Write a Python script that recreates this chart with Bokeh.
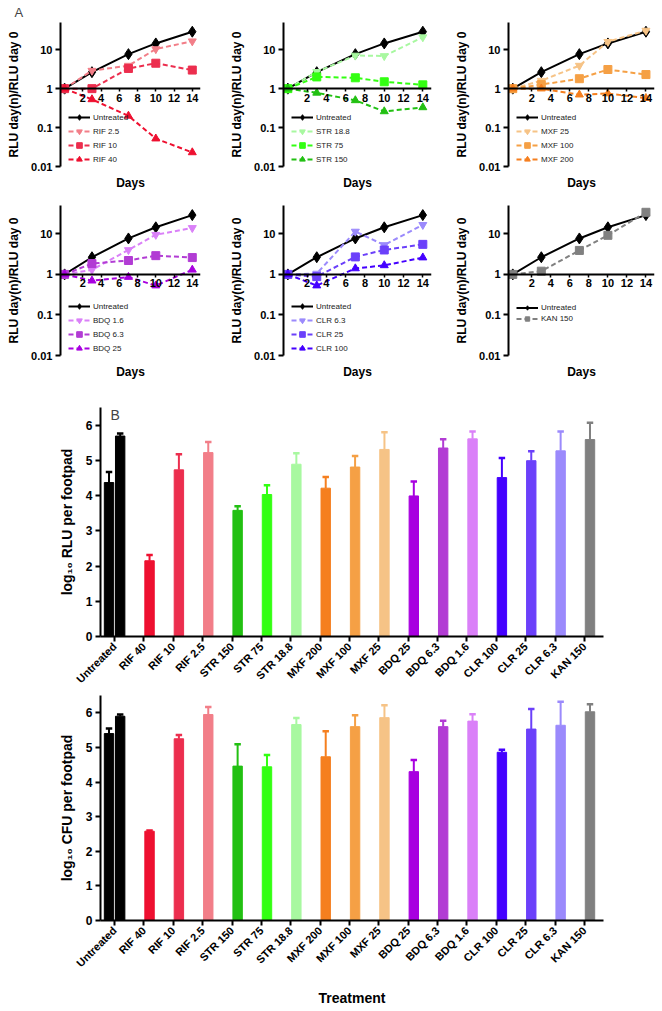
import math
from bokeh.plotting import figure
from bokeh.models import (LinearAxis, FixedTicker, CustomJSTickFormatter, Legend,
                          LegendItem, Label, Range1d, Title)
from bokeh.layouts import column, row
from bokeh.embed import file_html
from bokeh.resources import INLINE

FONT = "Liberation Sans"

# ---------------- data: panel A (RLU day(n)/RLU day 0) ----------------
days = [0, 3, 7, 10, 14]
untreated = [1.0, 2.65, 7.7, 14.5, 29.0]

rif_2_5 = [1.0, 2.9, 3.9, 10.4, 16.5]
rif_10 = [1.0, 1.0, 3.3, 4.5, 3.0]
rif_40 = [1.0, 0.53, 0.2, 0.052, 0.023]

str_18_8 = [1.0, 2.7, 7.1, 6.9, 21.0]
str_75 = [1.0, 2.0, 1.9, 1.5, 1.25]
str_150 = [1.0, 0.78, 0.5, 0.26, 0.33]

mxf_25 = [1.0, 1.6, 3.9, 16.0, 31.0]
mxf_100 = [1.0, 1.27, 1.8, 3.1, 2.3]
mxf_200 = [1.0, 1.0, 0.7, 0.75, 0.57]

bdq_1_6 = [1.0, 1.3, 4.0, 9.5, 14.0]
bdq_6_3 = [1.0, 1.85, 2.2, 2.9, 2.6]
bdq_25 = [1.0, 0.7, 0.86, 0.53, 1.3]

clr_6_3 = [1.0, 1.05, 11.4, 5.3, 16.7]
clr_25 = [1.0, 0.88, 2.7, 4.0, 5.5]
clr_100 = [1.0, 0.53, 1.4, 1.67, 2.6]

kan_150 = [1.0, 1.2, 3.9, 9.2, 34.0]

# ---------------- data: panel B (bars) ----------------
treatments = ["Untreated", "RIF 40", "RIF 10", "RIF 2.5", "STR 150", "STR 75", "STR 18.8",
              "MXF 200", "MXF 100", "MXF 25", "BDQ 25", "BDQ 6.3", "BDQ 1.6",
              "CLR 100", "CLR 25", "CLR 6.3", "KAN 150"]
rlu_mean = [5.69, 2.15, 4.73, 5.22, 3.58, 4.03, 4.89, 4.21, 4.81, 5.31, 3.99, 5.35, 5.61,
            4.51, 4.99, 5.27, 5.59]
rlu_err = [0.07, 0.16, 0.44, 0.30, 0.12, 0.26, 0.31, 0.32, 0.31, 0.49, 0.41, 0.25, 0.21,
           0.56, 0.27, 0.55, 0.48]
rlu_start_mean = [4.37]
rlu_start_err = [0.30]

cfu_mean = [5.90, 2.58, 5.25, 5.95, 4.46, 4.44, 5.66, 4.73, 5.60, 5.86, 4.30, 5.60, 5.76,
            4.86, 5.53, 5.64, 6.03]
cfu_err = [0.05, 0.02, 0.11, 0.22, 0.63, 0.34, 0.19, 0.74, 0.33, 0.36, 0.34, 0.17, 0.20,
           0.07, 0.58, 0.68, 0.22]
cfu_start_mean = [5.40]
cfu_start_err = [0.15]

# ---------------- styles ----------------
COL = {
    "Untreated": "#000000",
    "RIF 40": "#EE1030", "RIF 10": "#EC2E4E", "RIF 2.5": "#F27E88",
    "STR 150": "#22C012", "STR 75": "#33FF12", "STR 18.8": "#A8F8A0",
    "MXF 200": "#F57F1F", "MXF 100": "#F5A045", "MXF 25": "#F6C386",
    "BDQ 25": "#A800E0", "BDQ 6.3": "#B23CD4", "BDQ 1.6": "#DA80F8",
    "CLR 100": "#4400FF", "CLR 25": "#6B40FA", "CLR 6.3": "#9B8AFC",
    "KAN 150": "#808080",
}
MARKS = ["inverted_triangle", "square", "triangle"]

panels = [
    [("RIF 2.5", rif_2_5), ("RIF 10", rif_10), ("RIF 40", rif_40)],
    [("STR 18.8", str_18_8), ("STR 75", str_75), ("STR 150", str_150)],
    [("MXF 25", mxf_25), ("MXF 100", mxf_100), ("MXF 200", mxf_200)],
    [("BDQ 1.6", bdq_1_6), ("BDQ 6.3", bdq_6_3), ("BDQ 25", bdq_25)],
    [("CLR 6.3", clr_6_3), ("CLR 25", clr_25), ("CLR 100", clr_100)],
    [("KAN 150", kan_150)],
]

# geometry: width, right border, top border, frame height, bottom border, legend y, item height
geo = [
    (223, 23, 20, 146, 28, 0, 14),
    (225, 17, 20, 146, 28, 0, 14),
    (214, 8, 20, 146, 28, 0, 14),
    (223, 23, 11, 150, 30, 0, 14),
    (225, 17, 11, 150, 30, 0, 14),
    (214, 8, 11, 150, 30, 31, 11),
]


def style_text_axis(ax, size="11px"):
    ax.major_label_text_font = FONT
    ax.major_label_text_font_style = "bold"
    ax.major_label_text_font_size = size
    ax.major_label_text_color = "black"
    ax.axis_label_text_font = FONT
    ax.axis_label_text_font_style = "bold"
    ax.axis_label_text_color = "black"


def line_panel(series, g, first=False):
    w, rb, tb, fh, bb, lvy, ih = g
    p = figure(width=w, height=tb + fh + bb, y_axis_type="log",
               x_range=Range1d(-0.45, 14.9), y_range=Range1d(0.01, 50),
               x_axis_location=None, output_backend="svg", toolbar_location=None,
               min_border_left=60, min_border_right=rb, min_border_top=tb,
               min_border_bottom=bb)
    p.outline_line_color = None
    p.grid.visible = False
    p.border_fill_color = "white"

    ya = p.yaxis[0]
    ya.ticker = FixedTicker(ticks=[0.01, 0.1, 1, 10])
    ya.formatter = CustomJSTickFormatter(code="return tick >= 1 ? tick.toFixed(0) : String(tick);")
    ya.axis_label = "RLU day(n)/RLU day 0"
    ya.axis_line_width = 2
    ya.major_tick_line_width = 2
    ya.major_tick_out = 5
    ya.major_tick_in = 0
    ya.minor_tick_line_color = None
    ya.major_label_standoff = 3
    ya.axis_label_standoff = 7
    style_text_axis(ya)
    ya.axis_label_text_font_size = "12px"

    xa = LinearAxis(fixed_location=1, ticker=FixedTicker(ticks=[2, 4, 6, 8, 10, 12, 14]))
    xa.axis_line_width = 2
    xa.major_tick_line_width = 1.5
    xa.major_tick_out = 3
    xa.major_tick_in = 0
    xa.minor_tick_line_color = None
    xa.major_label_standoff = 2
    style_text_axis(xa)
    p.add_layout(xa, "below")

    da = LinearAxis(axis_label="Days", ticker=FixedTicker(ticks=[]))
    da.axis_line_color = None
    da.major_tick_line_color = None
    da.minor_tick_line_color = None
    da.major_label_text_font_size = "0px"
    da.major_tick_out = 0
    da.major_tick_in = 0
    da.major_label_standoff = 0
    da.axis_label_standoff = 9
    style_text_axis(da)
    da.axis_label_text_font_size = "12px"
    p.add_layout(da, "below")

    ul = p.line(days, untreated, color="black", line_width=2)
    um = p.scatter(days, untreated, marker="diamond", size=11, color="black")
    items = [LegendItem(label="Untreated", renderers=[ul, um])]
    for i, (name, vals) in enumerate(series):
        c = COL[name]
        mk = MARKS[i] if len(series) > 1 else "square"
        l = p.line(days, vals, color=c, line_width=2, line_dash="5 3")
        m = p.scatter(days, vals, marker=mk, size=8, color=c)
        items.append(LegendItem(label=name, renderers=[l, m]))

    leg = Legend(items=items, location=(8, lvy), label_text_font=FONT,
                 label_text_font_size="8px", label_text_color="#222222",
                 glyph_width=22, glyph_height=ih, label_height=ih, spacing=0,
                 padding=0, margin=0, border_line_color=None,
                 background_fill_alpha=0, label_standoff=3)
    p.add_layout(leg)

    if first:
        t = Title(text="A", align="left", offset=-46, text_font=FONT,
                  text_font_size="13px", text_font_style="normal", standoff=5)
        p.add_layout(t, "above")
    return p


def bar_panel(means, errs, start_mean, start_err, ylabel, tb, bb, xlabel=None, letter=None):
    fh = 230
    p = figure(width=662, height=tb + fh + bb, x_range=Range1d(-0.48, 16.65),
               y_range=Range1d(0, 6.5), output_backend="svg", toolbar_location=None,
               min_border_left=100, min_border_right=59, min_border_top=tb,
               min_border_bottom=bb)
    p.outline_line_color = None
    p.grid.visible = False
    p.border_fill_color = "white"

    n = len(means)
    xs = list(range(n))
    xr = [x + 0.19 for x in xs]
    cols = [COL[t] for t in treatments]
    tops = [m + e for m, e in zip(means, errs)]
    p.segment(x0=xr, y0=means, x1=xr, y1=tops, color=cols, line_width=2)
    p.segment(x0=[x - 0.11 for x in xr], y0=tops, x1=[x + 0.11 for x in xr], y1=tops,
              color=cols, line_width=2.5)
    p.vbar(x=xr, top=means, width=0.32, color=cols)

    xl = [-0.19]
    stops = [m + e for m, e in zip(start_mean, start_err)]
    p.segment(x0=xl, y0=start_mean, x1=xl, y1=stops, color="black", line_width=2)
    p.segment(x0=[x - 0.11 for x in xl], y0=stops, x1=[x + 0.11 for x in xl], y1=stops,
              color="black", line_width=2.5)
    p.vbar(x=xl, top=start_mean, width=0.32, color="black")

    ya = p.yaxis[0]
    ya.ticker = FixedTicker(ticks=[0, 1, 2, 3, 4, 5, 6])
    ya.axis_label = ylabel
    ya.axis_line_width = 2
    ya.major_tick_line_width = 2
    ya.major_tick_out = 5
    ya.major_tick_in = 0
    ya.minor_tick_line_color = None
    ya.major_label_standoff = 3
    ya.axis_label_standoff = 8
    style_text_axis(ya, "12px")
    ya.axis_label_text_font_size = "14px"

    xa = p.xaxis[0]
    xa.ticker = FixedTicker(ticks=xs)
    xa.major_label_overrides = {i: t for i, t in enumerate(treatments)}
    xa.major_label_orientation = math.pi / 4
    xa.axis_line_width = 2
    xa.major_tick_line_width = 2
    xa.major_tick_out = 5
    xa.major_tick_in = 0
    xa.minor_tick_line_color = None
    xa.major_label_standoff = 3
    style_text_axis(xa, "11px")
    if xlabel:
        xa.axis_label = xlabel
        xa.axis_label_text_font_size = "14px"
        xa.axis_label_standoff = 14

    if letter:
        p.add_layout(Label(x=10, y=fh, x_units="screen", y_units="screen", text=letter,
                           text_font=FONT, text_font_size="14px", text_baseline="top"))
    return p


figs = [line_panel(s, g, first=(i == 0)) for i, (s, g) in enumerate(zip(panels, geo))]

pb = bar_panel(rlu_mean, rlu_err, rlu_start_mean, rlu_start_err,
               "log\u2081\u2080 RLU per footpad", 22, 55, letter="B")
pc = bar_panel(cfu_mean, cfu_err, cfu_start_mean, cfu_start_err,
               "log\u2081\u2080 CFU per footpad", 3, 84, xlabel="Treatment")

layout = column(row(*figs[:3], spacing=0), row(*figs[3:], spacing=0), pb, pc, spacing=0)

open("out.html", "w").write(file_html(layout, INLINE))
